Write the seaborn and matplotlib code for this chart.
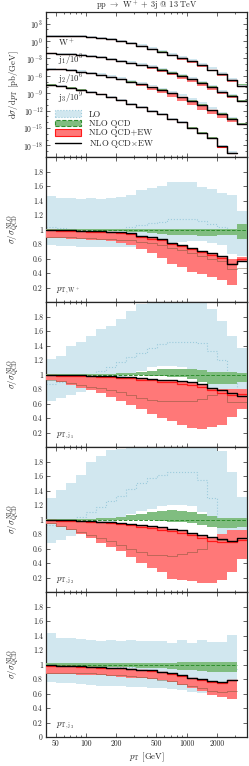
import numpy as np
import pandas as pd
import seaborn as sns
import matplotlib.pyplot as plt
from matplotlib.patches import Patch
from matplotlib.lines import Line2D
from matplotlib.ticker import FuncFormatter, MultipleLocator, LogLocator, NullFormatter, FixedLocator

# pT bin edges in GeV
PT_EDGES = [39.8, 50.1, 63.1, 79.4, 100.0, 125.9, 158.5, 199.5, 251.2, 316.2, 398.1,
            501.2, 631.0, 794.3, 1000.0, 1258.9, 1584.9, 1995.3, 2511.9, 3162.3, 3981.1]

# log10 of NLO QCD dsigma/dpT [pb/GeV] (j1, j2, j3 already scaled by 1e-3, 1e-6, 1e-9)
LOG_W = [0.94, 0.92, 0.89, 0.80, 0.68, 0.51, 0.29, 0.03, -0.31, -0.74,
         -1.25, -1.80, -2.28, -2.88, -3.39, -3.99, -4.76, -5.53, -6.47, -7.50]
LOG_J1 = [-2.07, -2.16, -2.24, -2.36, -2.57, -2.83, -3.13, -3.45, -3.77, -4.08,
          -4.48, -4.93, -5.45, -5.96, -6.56, -7.16, -7.84, -8.61, -9.38, -10.24]
LOG_J2 = [-4.76, -4.90, -5.07, -5.27, -5.53, -5.84, -6.18, -6.55, -6.99, -7.41,
          -7.89, -8.41, -8.96, -9.55, -10.24, -10.92, -11.70, -12.47, -13.32, -14.18]
LOG_J3 = [-7.50, -7.72, -8.01, -8.36, -8.75, -9.18, -9.64, -10.15, -10.75, -11.35,
          -11.95, -12.52, -13.32, -13.96, -14.91, -15.77, -16.63, -18.07, -19.14]

# ratios to NLO QCD, pT(W+)
W_LO_UP = [1.46, 1.43, 1.43, 1.42, 1.43, 1.42, 1.43, 1.45, 1.48, 1.54,
           1.57, 1.60, 1.65, 1.65, 1.65, 1.59, 1.56, 1.50, 1.47, 1.26]
W_LO_MID = [1.04, 1.02, 1.01, 1.00, 1.00, 1.00, 1.00, 1.01, 1.03, 1.06,
            1.09, 1.11, 1.15, 1.15, 1.15, 1.12, 1.08, 1.03, 0.98, 0.88]
W_LO_DN = [0.78, 0.77, 0.77, 0.76, 0.76, 0.76, 0.76, 0.76, 0.76, 0.77,
           0.78, 0.80, 0.82, 0.83, 0.84, 0.84, 0.82, 0.78, 0.66, 0.64]
W_QCD_UP = [1.005] * 19 + [1.07]
W_QCD_DN = [0.995, 0.995, 0.99, 0.99, 0.99, 0.985, 0.98, 0.975, 0.97, 0.96,
            0.95, 0.94, 0.93, 0.92, 0.92, 0.915, 0.915, 0.92, 0.92, 0.87]
W_MULT = [1.00, 0.995, 0.99, 0.985, 0.98, 0.975, 0.97, 0.96, 0.945, 0.915,
          0.89, 0.87, 0.82, 0.79, 0.745, 0.71, 0.67, 0.63, 0.53, 0.56]
W_MULT_DN = [0.89, 0.89, 0.89, 0.885, 0.88, 0.875, 0.87, 0.86, 0.85, 0.83,
             0.81, 0.78, 0.75, 0.72, 0.68, 0.64, 0.60, 0.56, 0.45, 0.47]
W_EW = [0.99, 0.985, 0.98, 0.975, 0.97, 0.965, 0.96, 0.95, 0.935, 0.90,
        0.875, 0.85, 0.80, 0.77, 0.725, 0.69, 0.65, 0.61, 0.53, 0.60]
W_EW_UP = [1.0, 0.995, 0.99, 0.985, 0.98, 0.975, 0.97, 0.96, 0.945, 0.915,
           0.89, 0.87, 0.82, 0.79, 0.745, 0.71, 0.67, 0.63, 0.60, 0.62]
W_EW_DN = [0.88, 0.88, 0.875, 0.87, 0.86, 0.85, 0.84, 0.82, 0.79, 0.73,
           0.67, 0.61, 0.53, 0.48, 0.41, 0.38, 0.34, 0.30, 0.23, 0.55]

# ratios to NLO QCD, pT(j1)
J1_LO_UP = [1.21, 1.26, 1.39, 1.45, 1.53, 1.63, 1.67, 1.76, 1.88, 1.97,
            2.05, 2.10, 2.15, 2.15, 2.10, 2.05, 1.90, 1.74, 1.53, 1.37]
J1_LO_MID = [0.87, 0.90, 0.93, 0.96, 1.00, 1.05, 1.10, 1.17, 1.24, 1.30,
             1.37, 1.42, 1.45, 1.45, 1.45, 1.43, 1.33, 1.20, 0.90, 0.72]
J1_LO_DN = [0.64, 0.67, 0.72, 0.76, 0.80, 0.84, 0.88, 0.94, 1.00, 1.05,
            1.10, 1.12, 1.12, 1.10, 1.05, 0.95, 0.80, 0.65, 0.62, 0.62]
J1_QCD_UP = [1.005, 1.005, 1.005, 1.005, 1.005, 1.005, 1.01, 1.015, 1.02, 1.03,
             1.05, 1.07, 1.08, 1.08, 1.07, 1.06, 1.04, 1.03, 1.03, 1.02]
J1_QCD_DN = [0.995, 0.995, 0.995, 0.99, 0.99, 0.99, 0.99, 0.99, 0.99, 0.99,
             0.985, 0.98, 0.97, 0.96, 0.94, 0.90, 0.87, 0.87, 0.87, 0.89]
J1_MULT = [1.00, 0.995, 0.99, 0.99, 0.985, 0.98, 0.975, 0.97, 0.96, 0.95,
           0.94, 0.93, 0.92, 0.91, 0.89, 0.87, 0.82, 0.78, 0.74, 0.71]
J1_MULT_DN = [0.93, 0.91, 0.88, 0.86, 0.83, 0.81, 0.78, 0.76, 0.72, 0.68,
              0.65, 0.64, 0.63, 0.63, 0.64, 0.66, 0.72, 0.75, 0.62, 0.62]
J1_EW = [0.99, 0.985, 0.98, 0.98, 0.975, 0.97, 0.965, 0.955, 0.945, 0.93,
         0.92, 0.90, 0.89, 0.87, 0.85, 0.83, 0.78, 0.74, 0.72, 0.73]
J1_EW_UP = [1.0, 0.995, 0.99, 0.99, 0.985, 0.98, 0.975, 0.97, 0.96, 0.95,
            0.94, 0.93, 0.92, 0.91, 0.89, 0.87, 0.82, 0.80, 0.80, 0.80]
J1_EW_DN = [0.93, 0.90, 0.86, 0.82, 0.78, 0.74, 0.69, 0.64, 0.58, 0.52,
            0.46, 0.40, 0.36, 0.30, 0.26, 0.25, 0.28, 0.31, 0.42, 0.52]

# ratios to NLO QCD, pT(j2)
J2_LO_UP = [1.29, 1.41, 1.50, 1.61, 1.80, 1.88, 1.96, 1.97, 2.10, 2.20,
            2.20, 2.20, 2.20, 2.20, 2.20, 2.10, 2.05, 1.95, 1.66, 1.31]
J2_LO_MID = [0.93, 0.96, 1.00, 1.04, 1.10, 1.17, 1.25, 1.33, 1.42, 1.50,
             1.57, 1.62, 1.66, 1.66, 1.66, 1.55, 1.30, 0.95, 0.82, 0.82]
J2_LO_DN = [0.68, 0.72, 0.77, 0.80, 0.85, 0.90, 0.96, 1.02, 1.08, 1.12,
            1.15, 1.18, 1.20, 1.20, 1.18, 1.10, 0.95, 0.80, 0.70, 0.65]
J2_QCD_UP = [1.005, 1.005, 1.005, 1.005, 1.01, 1.015, 1.02, 1.04, 1.06, 1.08,
             1.10, 1.12, 1.13, 1.12, 1.10, 1.08, 1.05, 1.02, 1.02, 1.02]
J2_QCD_DN = [0.995, 0.995, 0.995, 0.99, 0.99, 0.99, 0.99, 0.99, 0.99, 0.99,
             0.99, 0.98, 0.97, 0.96, 0.95, 0.93, 0.90, 0.88, 0.88, 0.90]
J2_MULT = [1.00, 0.995, 0.99, 0.985, 0.98, 0.97, 0.96, 0.95, 0.94, 0.93,
           0.91, 0.89, 0.87, 0.85, 0.82, 0.79, 0.76, 0.73, 0.71, 0.75]
J2_MULT_DN = [0.95, 0.91, 0.87, 0.83, 0.78, 0.74, 0.70, 0.65, 0.60, 0.55,
              0.51, 0.51, 0.50, 0.53, 0.55, 0.60, 0.70, 0.72, 0.70, 0.75]
J2_EW = [0.99, 0.985, 0.98, 0.975, 0.97, 0.96, 0.95, 0.94, 0.92, 0.90,
         0.88, 0.86, 0.84, 0.81, 0.78, 0.74, 0.70, 0.69, 0.69, 0.72]
J2_EW_UP = [1.0, 0.995, 0.99, 0.985, 0.98, 0.97, 0.96, 0.95, 0.94, 0.93,
            0.91, 0.89, 0.87, 0.85, 0.82, 0.79, 0.76, 0.80, 0.85, 0.85]
J2_EW_DN = [0.94, 0.90, 0.85, 0.80, 0.74, 0.68, 0.62, 0.56, 0.48, 0.40,
            0.33, 0.27, 0.18, 0.16, 0.15, 0.12, 0.13, 0.16, 0.27, 0.46]

# ratios to NLO QCD, pT(j3), last bin ends at 3.2 TeV
J3_LO_UP = [1.44, 1.37, 1.37, 1.35, 1.34, 1.33, 1.34, 1.33, 1.34, 1.33,
            1.33, 1.32, 1.30, 1.34, 1.30, 1.34, 1.31, 1.31, 1.41]
J3_LO_MID = [1.01, 1.00, 0.99, 0.99, 0.98, 0.98, 0.98, 0.97, 0.97, 0.97,
             0.97, 0.96, 0.96, 0.95, 0.95, 0.94, 0.93, 0.93, 0.94]
J3_LO_DN = [0.76, 0.75, 0.74, 0.73, 0.72, 0.71, 0.70, 0.70, 0.69, 0.69,
            0.68, 0.67, 0.66, 0.65, 0.62, 0.60, 0.58, 0.57, 0.56]
J3_QCD_UP = [1.02] * 13 + [1.03, 1.03, 1.03, 1.04, 1.04, 1.03]
J3_QCD_DN = [0.98, 0.98, 0.975, 0.975, 0.97, 0.97, 0.965, 0.96, 0.96, 0.955,
             0.95, 0.95, 0.94, 0.92, 0.92, 0.91, 0.90, 0.89, 0.89]
J3_MULT = [0.99, 0.985, 0.98, 0.975, 0.97, 0.96, 0.955, 0.95, 0.94, 0.93,
           0.92, 0.90, 0.88, 0.85, 0.82, 0.80, 0.77, 0.76, 0.78]
J3_MULT_DN = [0.88, 0.88, 0.88, 0.88, 0.88, 0.87, 0.86, 0.85, 0.84, 0.83,
              0.81, 0.79, 0.77, 0.73, 0.70, 0.67, 0.63, 0.62, 0.64]
J3_EW = [0.985, 0.98, 0.975, 0.97, 0.965, 0.955, 0.95, 0.945, 0.935, 0.925,
         0.915, 0.895, 0.875, 0.84, 0.81, 0.79, 0.76, 0.75, 0.78]
J3_EW_UP = J3_MULT
J3_EW_DN = [0.87, 0.87, 0.87, 0.86, 0.86, 0.85, 0.84, 0.83, 0.82, 0.81,
            0.80, 0.78, 0.76, 0.72, 0.68, 0.64, 0.58, 0.55, 0.52]

PANELS = [
    ('W', r'$p_{\mathrm{T},\mathrm{W}^+}$', W_LO_UP, W_LO_MID, W_LO_DN, W_QCD_UP, W_QCD_DN,
     W_MULT, W_MULT_DN, W_EW, W_EW_UP, W_EW_DN),
    ('J1', r'$p_{\mathrm{T},\mathrm{j}_1}$', J1_LO_UP, J1_LO_MID, J1_LO_DN, J1_QCD_UP, J1_QCD_DN,
     J1_MULT, J1_MULT_DN, J1_EW, J1_EW_UP, J1_EW_DN),
    ('J2', r'$p_{\mathrm{T},\mathrm{j}_2}$', J2_LO_UP, J2_LO_MID, J2_LO_DN, J2_QCD_UP, J2_QCD_DN,
     J2_MULT, J2_MULT_DN, J2_EW, J2_EW_UP, J2_EW_DN),
    ('J3', r'$p_{\mathrm{T},\mathrm{j}_3}$', J3_LO_UP, J3_LO_MID, J3_LO_DN, J3_QCD_UP, J3_QCD_DN,
     J3_MULT, J3_MULT_DN, J3_EW, J3_EW_UP, J3_EW_DN),
]
SPECTRA = [('W', LOG_W, r'W$^+$'), ('J1', LOG_J1, r'j$_1$/10$^3$'),
           ('J2', LOG_J2, r'j$_2$/10$^6$'), ('J3', LOG_J3, r'j$_3$/10$^9$')]
SPECTRA_LABEL_Y = [10 ** -0.26, 10 ** -3.4, 10 ** -6.65, 10 ** -9.9]

C_LO = '#d1e7ef'
C_LO_LINE = '#9ccbdc'
C_QCD = '#80bd80'
C_QCD_LINE = '#2f8f2f'
C_EW = '#ff7878'
C_EW_LINE = '#ff1a1a'
FS = 5.6
FS_TXT = 6.3


def steps(vals):
    """edges and values padded for a post-step drawing"""
    n = len(vals)
    return np.array(PT_EDGES[:n + 1]), np.append(vals, vals[-1])


def band(ax, lo, hi, color, z):
    x, y1 = steps(lo)
    _, y2 = steps(hi)
    ax.fill_between(x, y1, y2, step='post', color=color, lw=0, zorder=z)


def line(ax, vals, **kw):
    x, y = steps(vals)
    df = pd.DataFrame({'pt': x, 'v': y})
    sns.lineplot(data=df, x='pt', y='v', ax=ax, drawstyle='steps-post',
                 legend=False, estimator=None, sort=False, **kw)


sns.set_theme(style='ticks')
plt.rcParams['font.family'] = ['cmr10', 'DejaVu Serif']
plt.rcParams['mathtext.fontset'] = 'cm'
plt.rcParams['axes.formatter.use_mathtext'] = True
plt.rcParams['font.size'] = FS
plt.rcParams['axes.labelsize'] = FS_TXT
plt.rcParams['axes.titlesize'] = FS_TXT
plt.rcParams['legend.fontsize'] = FS_TXT
plt.rcParams['axes.linewidth'] = 0.9

fig, axes = plt.subplots(5, 1, sharex=True, figsize=(2.49, 7.66), dpi=100)
fig.subplots_adjust(left=45.7 / 249, right=247.3 / 249, top=1 - 12 / 766,
                    bottom=1 - 737 / 766, hspace=0)

# spectra panel
ax = axes[0]
ratios = {p[0]: p for p in PANELS}
for key, logs, lab in SPECTRA:
    p = ratios[key]
    nlo = 10.0 ** np.array(logs)
    band(ax, nlo * np.array(p[4]), nlo * np.array(p[2]), C_LO, 1)
    band(ax, nlo * np.array(p[6]), nlo * np.array(p[5]), C_QCD, 2)
    band(ax, nlo * np.array(p[11]), nlo * np.array(p[10]), C_EW, 3)
    line(ax, nlo * np.array(p[9]), color=C_EW_LINE, lw=0.8, zorder=4)
    line(ax, nlo * np.array(p[7]), color='black', lw=1.0, zorder=5)
ax.set_yscale('log')
ax.set_ylim(1e-20, 1e5)
ax.yaxis.set_major_locator(FixedLocator([10.0 ** k for k in range(-18, 4, 3)]))
ax.yaxis.set_minor_locator(LogLocator(base=10, subs=[1.0], numticks=40))
ax.yaxis.set_minor_formatter(NullFormatter())
ax.set_ylabel(r'd$\sigma$/d$p_\mathrm{T}$ [pb/GeV]', labelpad=2)
ax.set_title(r'pp $\rightarrow$ W$^+$ + 3j @ 13 TeV', pad=1.5, fontsize=6.0)
for (key, logs, lab), ypos in zip(SPECTRA, SPECTRA_LABEL_Y):
    ax.text(53, ypos, lab, va='center', ha='left', fontsize=FS_TXT)

handles = [
    Patch(facecolor=C_LO, edgecolor=C_LO_LINE, linestyle=':', lw=0.8),
    Patch(facecolor=C_QCD, edgecolor=C_QCD_LINE, linestyle='--', lw=0.8),
    Patch(facecolor=C_EW, edgecolor=C_EW_LINE, lw=0.8),
    Line2D([], [], color='black', lw=1.0),
]
ax.legend(handles, ['LO', 'NLO QCD', 'NLO QCD+EW', r'NLO QCD$\times$EW'],
          loc='lower left', frameon=False, fontsize=FS_TXT, handlelength=3.0,
          handletextpad=0.9, handleheight=0.75, labelspacing=0.12, borderpad=0,
          borderaxespad=0, bbox_to_anchor=(0.046, 0.045))

# ratio panels
for ax, p in zip(axes[1:], PANELS):
    key, lab, lo_up, lo_mid, lo_dn, qcd_up, qcd_dn, mult, mult_dn, ew, ew_up, ew_dn = p
    band(ax, lo_dn, lo_up, C_LO, 1)
    line(ax, lo_mid, color=C_LO_LINE, lw=0.8, ls=':', zorder=2)
    band(ax, qcd_dn, qcd_up, C_QCD, 3)
    line(ax, [1.0] * len(qcd_up), color=C_QCD_LINE, lw=0.7, ls='--', zorder=4)
    band(ax, ew_dn, ew_up, C_EW, 5)
    line(ax, mult_dn, color='#6b5030', lw=0.6, alpha=0.5, zorder=6)
    line(ax, ew, color=C_EW_LINE, lw=0.9, zorder=7)
    line(ax, mult, color='black', lw=1.0, zorder=8)
    ax.set_ylim(0, 2)
    ax.yaxis.set_major_locator(MultipleLocator(0.2))
    ax.yaxis.set_major_formatter(FuncFormatter(lambda v, pos: '' if v < 0.1 or v > 1.9 else f'{v:g}'))
    ax.set_ylabel(r'$\sigma/\sigma^{\mathrm{NLO}}_{\mathrm{QCD}}$', labelpad=2)
    ax.text(0.05, 0.04, lab, transform=ax.transAxes, va='bottom', fontsize=FS_TXT)

axes[-1].yaxis.set_major_formatter(FuncFormatter(lambda v, pos: '' if v > 1.9 else f'{v:g}'))

for ax in axes:
    ax.set_xscale('log')
    ax.set_xlim(PT_EDGES[0], PT_EDGES[-1])
    ax.tick_params(which='both', direction='in', top=True, right=True,
                   labelsize=FS, width=0.5, pad=2)
    ax.tick_params(which='major', length=3)
    ax.tick_params(which='minor', length=1.5)
    ax.set_xlabel('')

bottom = axes[-1]
bottom.xaxis.set_major_locator(FixedLocator([50, 100, 200, 500, 1000, 2000]))
bottom.xaxis.set_major_formatter(FuncFormatter(lambda v, pos: f'{v:g}'))
bottom.xaxis.set_minor_locator(LogLocator(base=10, subs=np.arange(2, 10), numticks=20))
bottom.xaxis.set_minor_formatter(NullFormatter())
bottom.set_xlabel(r'$p_\mathrm{T}$ [GeV]', labelpad=2)

fig.align_ylabels(axes)
fig.savefig('out.png', dpi=100)
